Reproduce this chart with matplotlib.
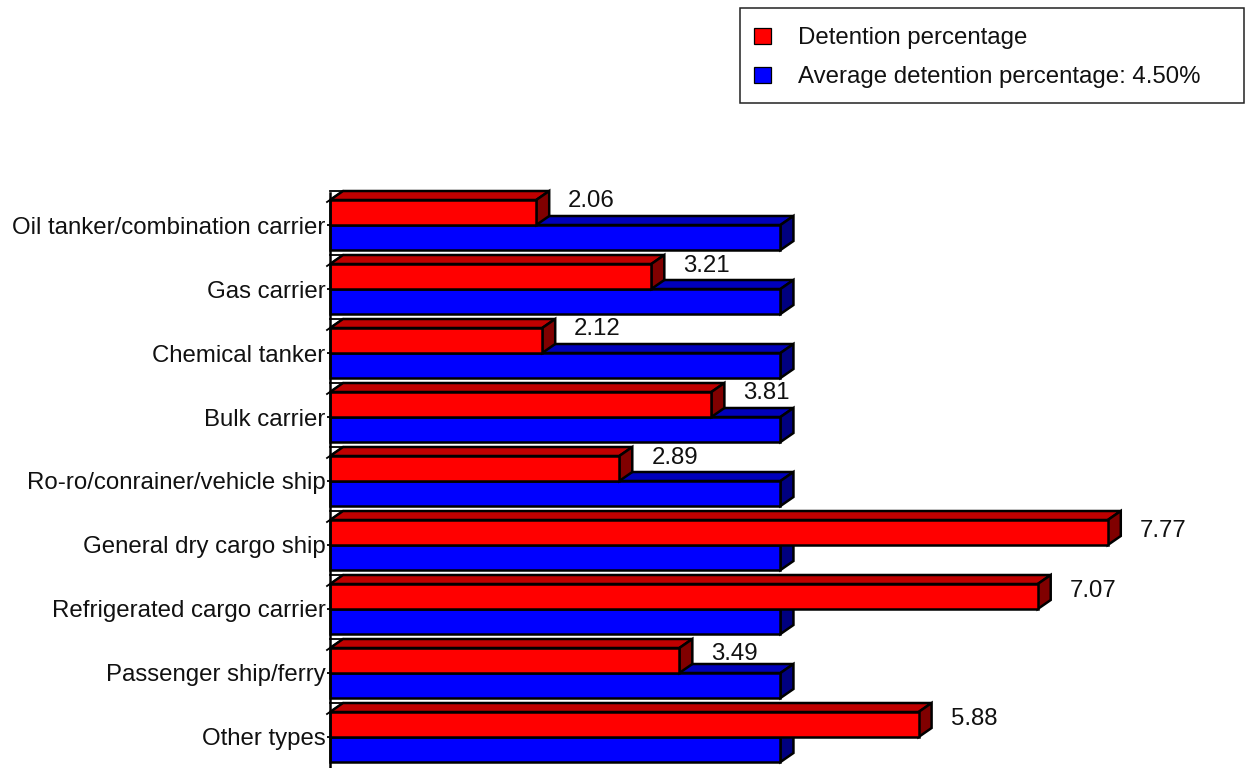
import matplotlib
matplotlib.use("Agg")
import matplotlib.pyplot as plt
from matplotlib.patches import Patch, Rectangle

plt.rcParams['font.family'] = ['Liberation Sans', 'DejaVu Sans']

categories = ["Oil tanker/combination carrier", "Gas carrier", "Chemical tanker",
              "Bulk carrier", "Ro-ro/conrainer/vehicle ship", "General dry cargo ship",
              "Refrigerated cargo carrier", "Passenger ship/ferry", "Other types"]
detention = [2.06, 3.21, 2.12, 3.81, 2.89, 7.77, 7.07, 3.49, 5.88]
average = [4.50] * 9
series_names = ["Detention percentage", "Average detention percentage: 4.50%"]
label_lift_px = [24, 23, 24, 24, 23, 14, 18, 19, 18]

W, H = 1245, 768
FS = 17.3
fig = plt.figure(figsize=(W / 100, H / 100), dpi=100, facecolor='white')
ax = fig.add_axes([330 / W, 0, 915 / W, 1 - 193 / H])
PX_X = 100.1   # pixels per data unit
PX_Y = 64.0
ax.set_xlim(0, 915 / PX_X)
ax.set_ylim((768 - 225) / PX_Y, -32 / PX_Y)

DX, DY = 13 / PX_X, 9 / PX_Y
BH = 25 / PX_Y
LW = 1.8

def bar3d(val, y0, y1, front, top, side, z):
    """y0 = upper edge, y1 = lower edge (data coordinates)."""
    ax.fill([0, val, val, 0], [y0, y0, y1, y1], fc=front, ec='black', lw=LW,
            zorder=z + 0.2, clip_on=False, joinstyle='miter')
    ax.fill([0, DX, val + DX, val], [y0, y0 - DY, y0 - DY, y0], fc=top, ec='black', lw=LW,
            zorder=z, clip_on=False, joinstyle='miter')
    ax.fill([val, val + DX, val + DX, val], [y0, y0 - DY, y1 - DY, y1], fc=side, ec='black', lw=LW,
            zorder=z + 0.1, clip_on=False, joinstyle='miter')

ypos = list(range(len(categories)))
for i in ypos:
    bar3d(average[i], i, i + BH, '#0000ff', '#0000bb', '#000080', 3 + i * 0.01)
    bar3d(detention[i], i - BH, i, '#ff0000', '#c00000', '#800000', 4 + i * 0.01)
    # slanted wall tick and back corner at the top of each band
    ax.plot([-3 / PX_X, DX], [i - BH + 2 / PX_Y, i - BH - DY], color='black', lw=1.3,
            zorder=2, clip_on=False)
    ax.plot([0, DX], [i - BH - DY, i - BH - DY], color='black', lw=1.3,
            zorder=2, clip_on=False)
    ax.annotate(f"{detention[i]:.2f}", (detention[i], i), xytext=(32, label_lift_px[i]),
                textcoords='offset pixels', ha='left', va='center', fontsize=FS, color='#111111')

for s in ['top', 'right', 'bottom']:
    ax.spines[s].set_visible(False)
ax.spines['left'].set_linewidth(LW)
ax.spines['left'].set_zorder(6)
ax.set_xticks([])
ax.set_yticks(ypos)
ax.set_yticklabels(categories, fontsize=FS, color='#111111')
ax.tick_params(axis='y', length=2.5, width=1.3, pad=0.6)
ax.patch.set_visible(False)

# legend box spans wider than its content in the reference
fig.add_artist(Rectangle((740 / W, 1 - 103 / H), 504 / W, 95 / H, transform=fig.transFigure,
                         fc='white', ec='#222222', lw=1.1))
handles = [Patch(fc='#ff0000', ec='black', lw=0.9), Patch(fc='#0000ff', ec='black', lw=0.9)]
leg = fig.legend(handles, series_names, loc='upper left',
                 bbox_to_anchor=(740 / W, 1 - 13 / H), bbox_transform=fig.transFigure,
                 fontsize=FS, frameon=False, borderpad=0.6, borderaxespad=0,
                 handlelength=0.67, handleheight=0.67, handletextpad=1.13,
                 labelspacing=0.70, labelcolor='#111111')

fig.savefig('out.png', dpi=100, facecolor='white')
